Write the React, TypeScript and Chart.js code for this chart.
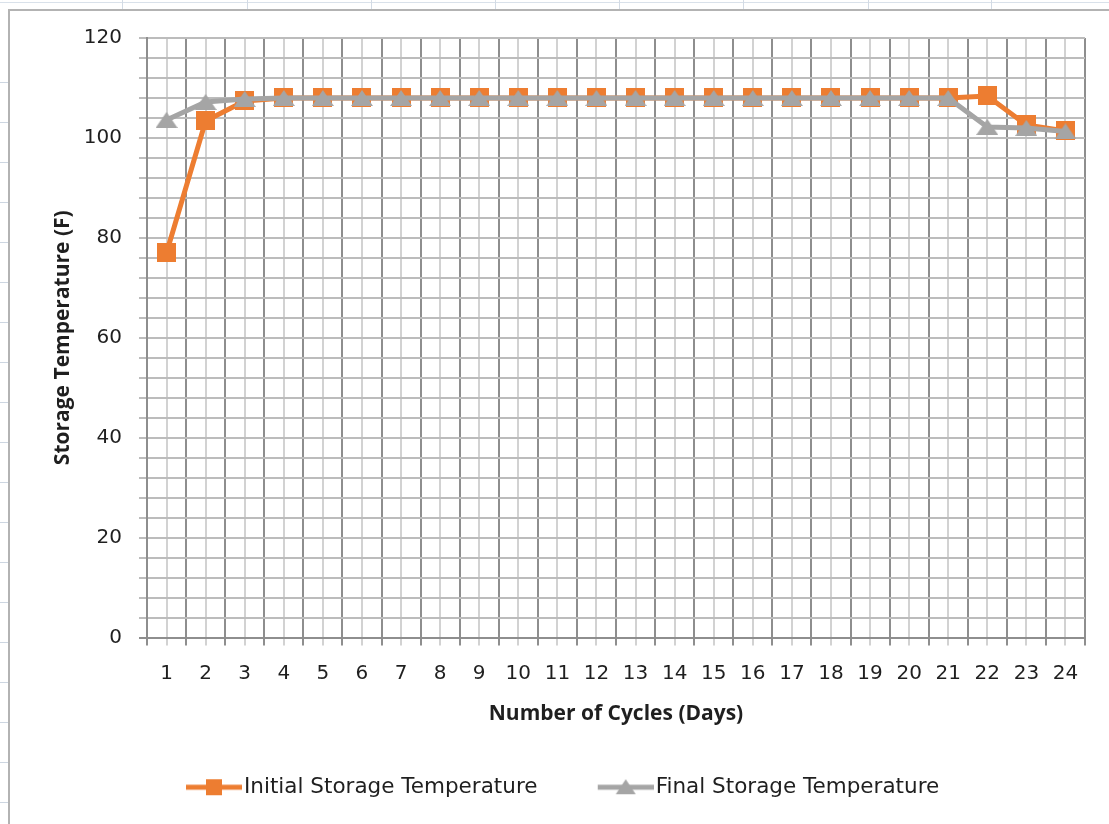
import React, { useEffect, useRef } from 'react';
import { Chart, registerables } from 'chart.js';

Chart.register(...registerables);

// ---- data ----
const cycleLabels = ['1', '2', '3', '4', '5', '6', '7', '8', '9', '10', '11', '12', '13', '14', '15', '16', '17', '18', '19', '20', '21', '22', '23', '24'];
const initialTemps = [77, 103.4, 107.4, 108, 108, 108, 108, 108, 108, 108, 108, 108, 108, 108, 108, 108, 108, 108, 108, 108, 108, 108.4, 102.6, 101.4];
const finalTemps = [103.6, 107.2, 107.8, 108, 108, 108, 108, 108, 108, 108, 108, 108, 108, 108, 108, 108, 108, 108, 108, 108, 108, 102.2, 102, 101.3];
const yTickLabels = [0, 20, 40, 60, 80, 100, 120];
const yMinorStep = 4;
const seriesNames = ['Initial Storage Temperature', 'Final Storage Temperature'];

// ---- styles ----
const ORANGE = '#ED7D31';
const GREY = '#A5A5A5';
const DARK_GRID = '#8e8e8e';
const LIGHT_GRID = '#d2d2d2';
const H_GRID = '#bcbcbc';
const TEXT = '#1f1f1f';

function makeSquare(size: number, color: string) {
  const c = document.createElement('canvas');
  c.width = size; c.height = size;
  const ctx = c.getContext('2d')!;
  ctx.fillStyle = color;
  ctx.fillRect(0, 0, size, size);
  return c;
}

function makeTriangle(w: number, h: number, color: string) {
  const c = document.createElement('canvas');
  c.width = w; c.height = h;
  const ctx = c.getContext('2d')!;
  ctx.fillStyle = color;
  ctx.beginPath();
  ctx.moveTo(w / 2, 0);
  ctx.lineTo(w, h);
  ctx.lineTo(0, h);
  ctx.closePath();
  ctx.fill();
  return c;
}

function makeLegendIcon(kind: 'square' | 'triangle', color: string) {
  const W = 75, H = 22, start = 19;
  const c = document.createElement('canvas');
  c.width = W; c.height = H;
  const ctx = c.getContext('2d')!;
  ctx.strokeStyle = color;
  ctx.lineWidth = 5;
  ctx.beginPath();
  ctx.moveTo(start, H / 2);
  ctx.lineTo(W, H / 2);
  ctx.stroke();
  const cx = start + (W - start) / 2;
  ctx.fillStyle = color;
  if (kind === 'square') {
    ctx.fillRect(cx - 8, H / 2 - 8, 16, 16);
  } else {
    ctx.beginPath();
    ctx.moveTo(cx, H / 2 - 8);
    ctx.lineTo(cx + 10, H / 2 + 7);
    ctx.lineTo(cx - 10, H / 2 + 7);
    ctx.closePath();
    ctx.fill();
  }
  return c;
}

export default function App() {
  const ref = useRef<HTMLCanvasElement>(null);

  useEffect(() => {
    document.body.style.margin = '0';
    document.body.style.overflow = 'hidden';
    const canvas = ref.current!;

    const squareImg = makeSquare(19, ORANGE);
    const triImg = makeTriangle(22, 16, GREY);
    const legendIcons = [makeLegendIcon('square', ORANGE), makeLegendIcon('triangle', GREY)];

    const xGrid: number[] = [0.5];
    cycleLabels.forEach((_, i) => { xGrid.push(i + 1, i + 1.5); });
    const yGrid: number[] = [];
    for (let v = yTickLabels[0]; v <= yTickLabels[yTickLabels.length - 1]; v += yMinorStep) yGrid.push(v);

    const tickFont = { family: 'DejaVu Sans', size: 20 };
    const titleFont = { family: 'Open Sans', size: 21, weight: 'bold' as const };

    const chart = new Chart(canvas, {
      type: 'line',
      data: {
        datasets: [
          {
            label: seriesNames[0],
            data: initialTemps.map((y, i) => ({ x: Number(cycleLabels[i]), y })),
            borderColor: ORANGE,
            backgroundColor: ORANGE,
            borderWidth: 5,
            pointStyle: squareImg as any,
            pointRadius: 9,
            tension: 0,
            order: 2,
          },
          {
            label: seriesNames[1],
            data: finalTemps.map((y, i) => ({ x: Number(cycleLabels[i]), y })),
            borderColor: GREY,
            backgroundColor: GREY,
            borderWidth: 5,
            pointStyle: triImg as any,
            pointRadius: 9,
            tension: 0,
            order: 1,
          },
        ],
      },
      options: {
        responsive: false,
        animation: false,
        devicePixelRatio: 1,
        events: [],
        layout: { padding: { left: 30, right: 24, top: 38, bottom: 16 } },
        plugins: {
          tooltip: { enabled: false },
          legend: {
            position: 'bottom',
            labels: {
              usePointStyle: true,
              pointStyleWidth: 57.5,
              padding: 50,
              color: TEXT,
              font: { family: 'DejaVu Sans', size: 21.5 },
              generateLabels: (ch: any) =>
                ch.data.datasets.map((ds: any, i: number) => ({
                  text: ds.label,
                  pointStyle: legendIcons[i],
                  fillStyle: ds.borderColor,
                  strokeStyle: ds.borderColor,
                  lineWidth: 0,
                  hidden: false,
                  datasetIndex: i,
                  fontColor: TEXT,
                })),
            },
          },
        },
        scales: {
          x: {
            type: 'linear',
            min: 0.5,
            max: 24.5,
            afterBuildTicks: (s: any) => { s.ticks = xGrid.map((v) => ({ value: v })); },
            afterFit: (s: any) => { s.height = 89; },
            ticks: {
              autoSkip: false,
              maxRotation: 0,
              minRotation: 0,
              padding: 16,
              color: TEXT,
              font: tickFont,
              callback: (v: any) => (Number.isInteger(v) ? cycleLabels[v - 1] : ''),
            },
            grid: {
              color: (c: any) => (c.tick && Number.isInteger(c.tick.value) ? LIGHT_GRID : DARK_GRID),
              lineWidth: 2,
              tickLength: 8,
            },
            border: { color: DARK_GRID, width: 2 },
            title: {
              display: true,
              text: 'Number of Cycles (Days)',
              color: TEXT,
              font: titleFont,
              padding: { top: 0, bottom: 0 },
            },
          },
          y: {
            min: 0,
            max: 120,
            afterBuildTicks: (s: any) => { s.ticks = yGrid.map((v) => ({ value: v })); },
            afterFit: (s: any) => { s.width = 117; },
            ticks: {
              autoSkip: false,
              padding: 17,
              color: TEXT,
              font: tickFont,
              callback: (v: any) => (yTickLabels.includes(v) ? String(v) : ''),
            },
            grid: {
              color: (c: any) => (c.tick && c.tick.value === 0 ? DARK_GRID : H_GRID),
              lineWidth: 2,
              tickLength: 8,
            },
            border: { color: DARK_GRID, width: 2 },
            title: {
              display: true,
              text: 'Storage Temperature (F)',
              color: TEXT,
              font: titleFont,
              padding: { top: 20, bottom: 0 },
            },
          },
        },
      },
    } as any);

    return () => chart.destroy();
  }, []);

  const colLines = [122, 247, 371, 495, 619, 743, 868, 991];
  const rowLines: number[] = [];
  for (let y = 82; y < 824; y += 40) rowLines.push(y);

  return (
    <div style={{ position: 'relative', width: 1109, height: 824, overflow: 'hidden', background: '#ffffff' }}>
      <div style={{ position: 'absolute', left: 0, top: 2, width: 1109, height: 1, background: '#d9e1ea' }} />
      {colLines.map((x) => (
        <div key={'c' + x} style={{ position: 'absolute', left: x, top: 0, width: 1, height: 9, background: '#d3dbe5' }} />
      ))}
      {rowLines.map((y) => (
        <div key={'r' + y} style={{ position: 'absolute', left: 0, top: y, width: 8, height: 1, background: '#cdd6e1' }} />
      ))}
      <div
        style={{
          position: 'absolute',
          left: 8,
          top: 9,
          width: 1120,
          height: 840,
          borderLeft: '2px solid #b3b3b3',
          borderTop: '2px solid #b3b3b3',
          background: '#ffffff',
        }}
      />
      <canvas
        ref={ref}
        width={1109}
        height={824}
        style={{ position: 'absolute', left: 0, top: 0, width: 1109, height: 824, zIndex: 1 }}
      />
    </div>
  );
}
